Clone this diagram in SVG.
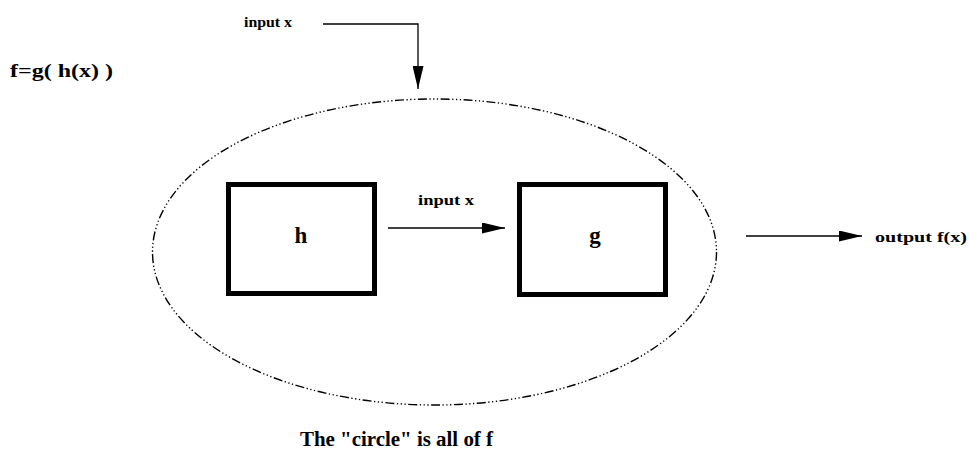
<svg xmlns="http://www.w3.org/2000/svg" width="969" height="452" viewBox="0 0 969 452">
<defs>
<style>
text{font-family:"Liberation Serif","DejaVu Serif",serif;font-weight:bold;fill:#000}
.box{fill:none;stroke:#000;stroke-width:5}
.ln{fill:none;stroke:#000;stroke-width:1.3}
</style>
<marker id="ah" markerWidth="23" markerHeight="11" refX="23" refY="5.5" orient="auto" markerUnits="userSpaceOnUse">
<path d="M0,0 L23,5.5 L0,11 Z" fill="#000"/>
</marker>
</defs>
<rect width="969" height="452" fill="#fff"/>
<text x="10" y="77" font-size="19" textLength="103" lengthAdjust="spacingAndGlyphs">f=g( h(x) )</text>
<text x="244" y="27" font-size="14" textLength="48" lengthAdjust="spacingAndGlyphs">input x</text>
<ellipse cx="434.5" cy="252" rx="282" ry="153" fill="none" stroke="#000" stroke-width="1.4" stroke-dasharray="9 2.5 1.3 2.5 1.3 2.5 1.3 2.5"/>
<g id="h">
<rect class="box" x="228.5" y="184.5" width="146" height="109"/>
<text x="301" y="243" font-size="23" text-anchor="middle">h</text>
</g>
<g id="g">
<rect class="box" x="519.5" y="184.5" width="146" height="110"/>
<text x="595" y="243" font-size="23" text-anchor="middle">g</text>
</g>
<g id="connectors">
<polyline class="ln" points="323,24 418,24 418,89" marker-end="url(#ah)"/>
<line class="ln" x1="388" y1="228" x2="505" y2="228" marker-end="url(#ah)"/>
<line class="ln" x1="746" y1="236" x2="862" y2="236" marker-end="url(#ah)"/>
</g>
<text x="418" y="205" font-size="15" textLength="56" lengthAdjust="spacingAndGlyphs">input x</text>
<text x="875" y="242" font-size="14" textLength="92" lengthAdjust="spacingAndGlyphs">output f(x)</text>
<text x="300" y="446" font-size="20" textLength="193" lengthAdjust="spacingAndGlyphs">The "circle" is all of f</text>
</svg>
